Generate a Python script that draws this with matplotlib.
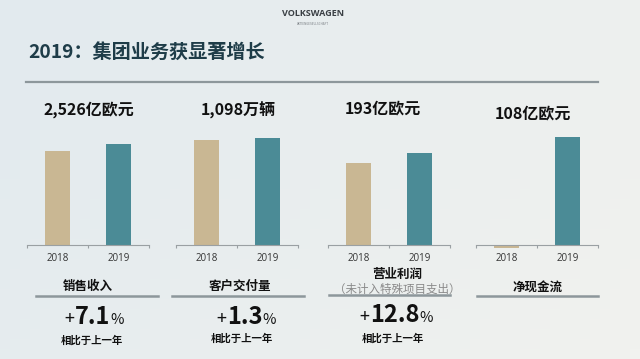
import matplotlib
matplotlib.use("Agg")
import matplotlib.pyplot as plt
import numpy as np
from matplotlib.colors import LinearSegmentedColormap

plt.rcParams['font.family'] = ['Noto Sans CJK SC', 'DejaVu Sans']

#%% data
years = ["2018", "2019"]
headline = ["2,526亿欧元", "1,098万辆", "193亿欧元", "108亿欧元"]
values_2018 = [235.8, 1080, 171, -2.5]
values_2019 = [252.6, 1098, 193, 108]
metric = ["销售收入", "客户交付量", "营业利润", "净现金流"]
growth = ["7.1", "1.3", "12.8", None]

W, H = 640, 359
TAN = "#c9b793"
TEAL = "#4b8b96"
DARK = "#1e3c48"
GREY_LINE = "#8d979b"

fig = plt.figure(figsize=(W / 100, H / 100), dpi=100)

# background gradient
bg = fig.add_axes([0, 0, 1, 1], zorder=-10)
cmap = LinearSegmentedColormap.from_list("bg", ["#e2eaee", "#f1f2ef"])
gx, gy = np.meshgrid(np.linspace(0, 1, 64), np.linspace(0, 1, 36))
bg.imshow(0.75 * gx + 0.25 * gy, cmap=cmap, aspect="auto", extent=[0, 1, 0, 1])
bg.set_xlim(0, 1)
bg.set_ylim(0, 1)
bg.axis("off")


def px(x, y):
    return x / W, 1 - y / H


# header
fig.text(*px(313, 14), "VOLKSWAGEN", ha="center", va="center",
         fontsize=6.5, fontweight="bold", color="#3a3f44", family="Open Sans")
fig.text(*px(313, 24), "AKTIENGESELLSCHAFT", ha="center", va="center",
         fontsize=2.2, color="#7a7f84")
fig.text(*px(28, 52), "2019：集团业务获显著增长", ha="left", va="center",
         fontsize=13.8, fontweight="bold", color=DARK)
fig.add_artist(plt.Line2D([26 / W, 598 / W], [1 - 82 / H] * 2, color=GREY_LINE, lw=1.6))

#%% panels
panel_left = [27, 176, 328, 476]
panel_w = 122
zero_y = 245
bar_h2019 = [101, 107, 92, 108]
head_pos = [(89, 110), (238, 110), (383, 108), (533, 113)]

for i in range(4):
    k = values_2019[i] / bar_h2019[i]
    top, bot = 125, 251
    ax = fig.add_axes([panel_left[i] / W, 1 - bot / H, panel_w / W, (bot - top) / H])
    ax.patch.set_alpha(0)
    ax.bar([0, 1], [values_2018[i], values_2019[i]], width=0.4, color=[TAN, TEAL])
    ax.set_xlim(-0.5, 1.5)
    ax.set_ylim(-(bot - zero_y) * k, (zero_y - top) * k)
    for s in ["left", "right", "top"]:
        ax.spines[s].set_visible(False)
    ax.spines["bottom"].set_position(("data", 0))
    ax.spines["bottom"].set_color("#9aa0a3")
    ax.spines["bottom"].set_linewidth(0.8)
    ax.set_yticks([])
    ax.set_xticks([0, 1])
    ax.set_xticklabels(years, fontsize=7, color="#333333", family="Open Sans")
    ax.tick_params(axis="x", which="major", length=0, pad=5.5)
    ax.set_xticks([-0.5, 0.5, 1.5], minor=True)
    ax.tick_params(axis="x", which="minor", length=2.5, width=0.8, color="#9aa0a3")
    fig.text(*px(*head_pos[i]), headline[i], ha="center", va="center",
             fontsize=11.5, fontweight="bold", color="#111111")

#%% labels under the charts
label_pos = [(88, 286), (240, 286), (397, 274), (538, 288)]
under = [(36, 158, 296), (172, 304, 296), (329, 450, 295), (477, 598, 296)]
for i in range(4):
    fig.text(*px(*label_pos[i]), metric[i], ha="center", va="center",
             fontsize=9, fontweight="bold", color="#111111")
    x0, x1, y = under[i]
    fig.add_artist(plt.Line2D([x0 / W, x1 / W], [1 - y / H] * 2, color=GREY_LINE, lw=1.8))
fig.text(*px(397, 289), "（未计入特殊项目支出）", ha="center", va="center",
         fontsize=8.3, color="#8a8a8a")

growth_pos = [(93, 324), (245, 324), (395, 322)]
note_pos = [(92, 340), (242, 338), (393, 338)]
fig.canvas.draw()
r = fig.canvas.get_renderer()
for i in range(3):
    t = fig.text(*px(*growth_pos[i]), growth[i], ha="center", va="baseline",
                 fontsize=17, fontweight="bold", color="#111111")
    bb = t.get_window_extent(r)
    yy = 1 - growth_pos[i][1] / H
    fig.text(bb.x0 / W - 0.001, yy, "+", ha="right", va="baseline",
             fontsize=13, color="#111111")
    fig.text(bb.x1 / W - 0.001, yy, "%", ha="left", va="baseline",
             fontsize=10.5, color="#111111")
    fig.text(*px(*note_pos[i]), "相比于上一年", ha="center", va="center",
             fontsize=7.5, fontweight="bold", color="#111111")

fig.savefig("out.png", dpi=100)
